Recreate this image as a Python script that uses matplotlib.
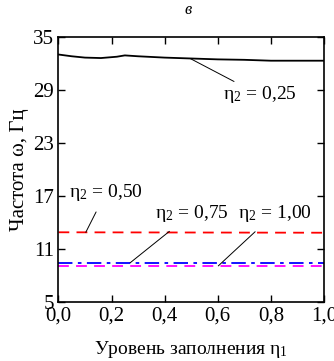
import numpy as np
import matplotlib.pyplot as plt

# данные
eta1 = [0.0, 0.05, 0.1, 0.16, 0.22, 0.25, 0.3, 0.4, 0.5, 0.6, 0.7, 0.8, 0.9, 1.0]
w_025 = [33.0, 32.8, 32.65, 32.6, 32.75, 32.9, 32.8, 32.65, 32.55, 32.45, 32.4, 32.3, 32.3, 32.3]
eta1_flat = [0.0, 1.0]
w_050 = [12.9, 12.85]
w_075 = [9.45, 9.45]
w_100 = [9.1, 9.1]

xticks = [0.0, 0.2, 0.4, 0.6, 0.8, 1.0]
xlabels = ['0,0', '0,2', '0,4', '0,6', '0,8', '1,0']
yticks = [5, 11, 17, 23, 29, 35]

plt.rcParams['font.family'] = ['Liberation Serif', 'DejaVu Serif']
plt.rcParams['mathtext.fontset'] = 'custom'
plt.rcParams['mathtext.rm'] = 'Liberation Serif'
plt.rcParams['mathtext.it'] = 'Liberation Serif:italic'

fig = plt.figure(figsize=(3.34, 3.61), dpi=100)
ax = fig.add_axes([0.175, 0.163, 0.795, 0.735])

ax.plot(eta1, w_025, color='k', lw=1.3)
ax.plot(eta1_flat, w_050, color='red', lw=1.3, ls=(0, (6, 4)))
ax.plot(eta1_flat, w_075, color='blue', lw=1.3, ls=(0, (8, 3, 2, 3)))
ax.plot(eta1_flat, w_100, color='magenta', lw=1.3, ls=(0, (6, 4)))

# подписи с выносками
fs = 14
ax.annotate('η$_2$ = 0,25', xy=(0.496, 32.55), xytext=(0.618, 28.45),
            fontsize=fs, va='center', ha='left',
            arrowprops=dict(arrowstyle='-', color='k', lw=0.7, shrinkA=0, shrinkB=0))
ax.annotate('η$_2$ = 0,50', xy=(0.103, 12.9), xytext=(0.04, 17.4),
            fontsize=fs, va='center', ha='left',
            arrowprops=dict(arrowstyle='-', color='k', lw=0.7, shrinkA=5, shrinkB=0))
ax.annotate('η$_2$ = 0,75', xy=(0.27, 9.45), xytext=(0.362, 15.0),
            fontsize=fs, va='center', ha='left',
            arrowprops=dict(arrowstyle='-', color='k', lw=0.7, shrinkA=5, shrinkB=0))
ax.annotate('η$_2$ = 1,00', xy=(0.602, 9.1), xytext=(0.675, 15.0),
            fontsize=fs, va='center', ha='left',
            arrowprops=dict(arrowstyle='-', color='k', lw=0.7, shrinkA=5, shrinkB=0))

ax.set_xlim(0, 1)
ax.set_ylim(5, 35)
ax.set_xticks(xticks)
ax.set_xticklabels(xlabels)
ax.set_yticks(yticks)
ax.tick_params(direction='in', top=True, right=True, labelsize=15, length=5, width=1, pad=3)
for s in ax.spines.values():
    s.set_linewidth(1.2)

ax.set_xlabel('Уровень заполнения η$_1$', fontsize=14, labelpad=10)
ax.set_ylabel('Частота ω, Гц', fontsize=15, labelpad=3)
fig.text(0.563, 0.972, 'в', fontsize=12, style='italic', ha='center', va='center')

fig.savefig('out.png', dpi=100)
